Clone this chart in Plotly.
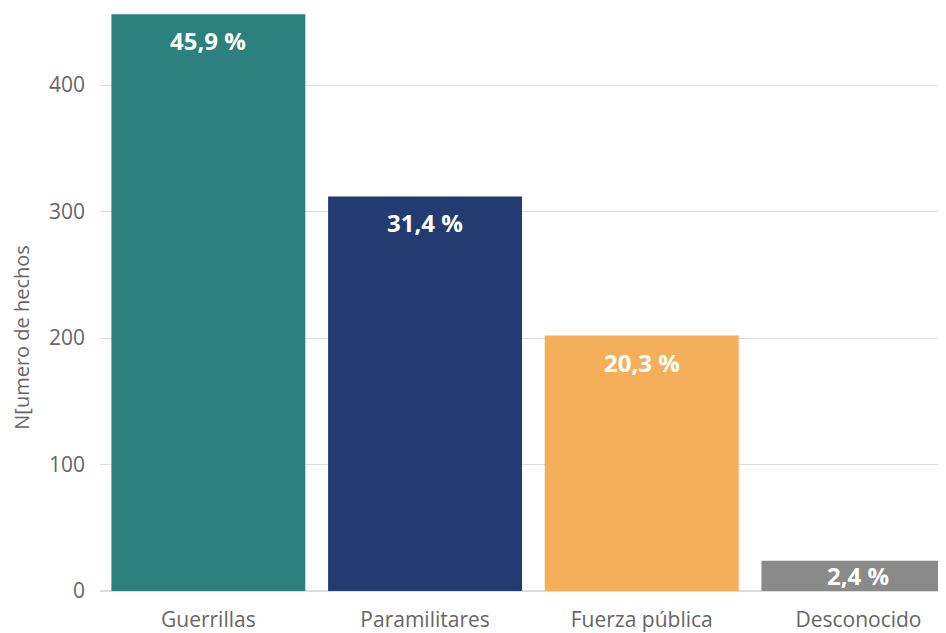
import plotly.graph_objects as go

# Datos
categorias = ["Guerrillas", "Paramilitares", "Fuerza pública", "Desconocido"]
hechos = [456, 312, 202, 24]
porcentajes = ["45,9 %", "31,4 %", "20,3 %", "2,4 %"]
colores = ["#2C807D", "#233B70", "#F5AF5B", "#8A8A8A"]

FONT = "Open Sans, Lato, sans-serif"
GRIS = "#666666"

fig = go.Figure()
fig.add_trace(go.Bar(x=categorias, y=hechos, marker_color=colores,
                     marker_line_width=0, hoverinfo="x+y"))

# Etiquetas de porcentaje dentro de las barras
for cat, v, p in zip(categorias, hechos, porcentajes):
    fig.add_annotation(x=cat, y=max(v - 21, v / 2), text=f"<b>{p}</b>",
                       showarrow=False, yanchor="middle",
                       font=dict(family=FONT, size=24, color="white"))

# Título del eje Y (algo desplazado hacia abajo, como en el original)
fig.add_annotation(text="N[umero de hechos", textangle=-90,
                   xref="paper", yref="paper", x=-0.093, y=0.435,
                   xanchor="center", yanchor="middle", showarrow=False,
                   font=dict(family=FONT, size=20, color=GRIS))

fig.update_layout(
    width=938, height=625,
    margin=dict(l=92, r=0, t=0, b=42),
    paper_bgcolor="white", plot_bgcolor="white",
    bargap=0.105,
    showlegend=False,
    font=dict(family=FONT, color=GRIS),
)
fig.update_xaxes(range=[-0.5, 3.404], showline=False, ticks="", automargin=False,
                 tickfont=dict(size=21, color=GRIS), ticklabelstandoff=14)
fig.update_yaxes(range=[0, 461], tickvals=[0, 100, 200, 300, 400], automargin=False,
                 showgrid=True, gridcolor="#DDDDDD", gridwidth=1,
                 zeroline=True, zerolinecolor="#DDDDDD",
                 tickfont=dict(size=21, color=GRIS), ticklabelstandoff=14)

fig.write_html("out.html")
